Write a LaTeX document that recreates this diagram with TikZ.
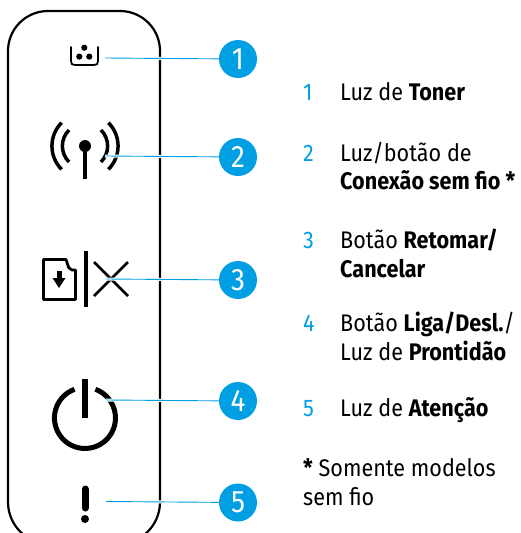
\documentclass[tikz,border=0pt]{standalone}
\usepackage{fontspec}
\setmainfont[FakeStretch=0.9]{Fira Sans}
\definecolor{hpblue}{HTML}{009FE3}
\tikzset{
  x=1pt,y=-1pt,
  panel/.style={line width=2.2pt,black},
  icon/.style={line width=2.8pt,black},
  leader/.style={line width=0.9pt,hpblue,preaction={draw=white,line width=3pt}},
  badge/.style={circle,fill=hpblue,text=white,minimum size=38pt,inner sep=0pt,font=\fontsize{31}{31}\selectfont},
  num/.style={anchor=base west,inner sep=0pt,text=hpblue,font=\fontsize{24}{24}\selectfont},
  txt/.style={anchor=base west,inner sep=0pt,font=\fontsize{24}{24}\selectfont},
}
\begin{document}
\begin{tikzpicture}
\useasboundingbox (0,0) rectangle (520,533);
\begin{scope}
\clip (0,0) rectangle (520,533);
\draw[panel] (8,51) arc[start angle=180,end angle=270,radius=40] -- (120,11) arc[start angle=-90,end angle=0,radius=40] -- (160,502) arc[start angle=0,end angle=90,radius=42] -- (50,544) arc[start angle=90,end angle=180,radius=42] -- cycle;
\end{scope}
% toner
\draw[line width=1.8pt,line cap=round,line join=round] (71,47) -- (71,61) .. controls (71,64) and (72,65) .. (75,65) -- (94,65) .. controls (97,65) and (98,64) .. (98,61) -- (98,47);
\fill (84.3,47.7) circle[radius=3.1];
\fill (79.3,56.6) circle[radius=3.1];
\fill (89.3,56.6) circle[radius=3.1];
% wireless
\fill (85,146) circle[radius=6];
\draw[line width=4pt] (85,146) -- (85,179);
\draw[icon,line width=3.5pt] (61.6,122.7) arc[start angle=-135,end angle=-225,radius=33];
\draw[icon,line width=3.5pt] (108.4,122.7) arc[start angle=-45,end angle=45,radius=33];
\draw[icon,line width=3.5pt] (69,130) arc[start angle=-135,end angle=-225,radius=22.6];
\draw[icon,line width=3.5pt] (101,130) arc[start angle=-45,end angle=45,radius=22.6];
% resume / cancel
\draw[icon,line join=round] (66,259.5) -- (43.5,259.5) -- (43.5,299.5) -- (75.5,299.5) -- (75.5,270) -- (72,270) .. controls (69,269) and (68,267) .. (67.5,264) -- cycle;
\fill (56.5,271) rectangle (61.5,279);
\fill (52.5,278) -- (65.5,278) -- (59,288) -- cycle;
\draw[line width=4pt] (86,251) -- (86,307);
\draw[icon] (94,262) -- (128,296);
\draw[icon] (94,296) -- (128,262);
% power
\draw[line width=5pt] (95.4,389.3) arc[start angle=-70,end angle=250,radius=30.5];
\draw[line width=6pt] (85,379) -- (85,418);
% attention
\draw[line width=7pt,line cap=round] (85,489) -- (85,508);
\fill (85,519) circle[radius=4];
% badges and leaders
\coordinate (l1) at (105,58);
\coordinate (l2) at (105,156);
\coordinate (l3) at (106,279);
\coordinate (l4) at (106,400);
\coordinate (l5) at (106,501.5);
\node[badge] (b1) at (238,59) {1};
\node[badge] (b2) at (238,157) {2};
\node[badge] (b3) at (238,280) {3};
\node[badge] (b4) at (238,401) {4};
\node[badge] (b5) at (238,502.5) {5};
\draw[leader] (l1) -- (b1);
\draw[leader] (l2) -- (b2);
\draw[leader] (l3) -- (b3);
\draw[leader] (l4) -- (b4);
\draw[leader] (l5) -- (b5);
% legend
\node[num] (n1) at (303,100.5) {1};
\node[txt] (t1) at (340,100.5) {Luz de \textbf{Toner}};
\node[num] (n2) at (303,161.5) {2};
\node[txt] (t2a) at (340,161.5) {Luz/botão de};
\node[txt] (t2b) at (340,189.5) {\textbf{Conexão sem fio *}};
\node[num] (n3) at (303,248.5) {3};
\node[txt] (t3a) at (340,248.5) {Botão \textbf{Retomar/}};
\node[txt] (t3b) at (340,277) {\textbf{Cancelar}};
\node[num] (n4) at (303,331) {4};
\node[txt] (t4a) at (340,331) {Botão \textbf{Liga/Desl.}/};
\node[txt] (t4b) at (340,360) {Luz de \textbf{Prontidão}};
\node[num] (n5) at (303,416.5) {5};
\node[txt] (t5) at (340,416.5) {Luz de \textbf{Atenção}};
\node[txt] (f1) at (303,476.5) {\textbf{*} Somente modelos};
\node[txt] (f2) at (303,505) {sem fio};
\end{tikzpicture}
\end{document}
